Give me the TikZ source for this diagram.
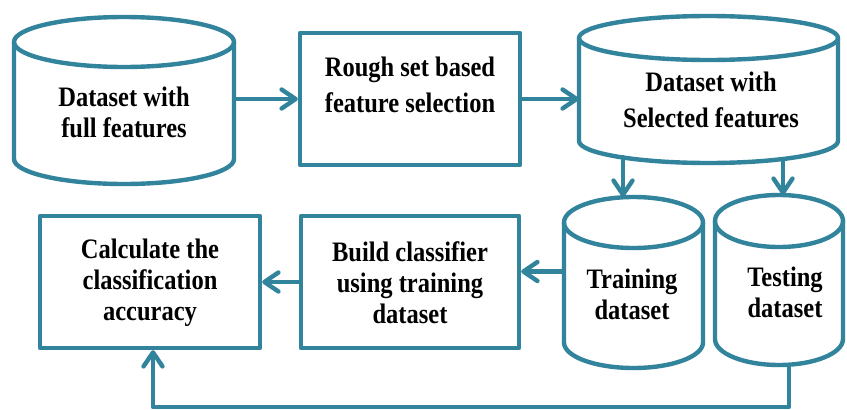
\documentclass[tikz,border=0pt]{standalone}
\usepackage{fontspec}
\usepackage{graphicx}
\setmainfont{Liberation Serif}
\usetikzlibrary{arrows.meta,calc}
\definecolor{tealfive}{RGB}{49,132,155}
\newcommand\tallt[1]{\scalebox{1}[1.15]{#1}}
\tikzset{
  x=1pt, y=-1pt,
  outline/.style={draw=tealfive, line width=4.4pt, line join=round},
  boxnode/.style={outline, rectangle, inner sep=0pt, fill=white},
  area/.style={rectangle, inner sep=0pt, draw=none},
  lbl/.style={align=center, font=\bfseries\fontsize{24.5}{31}\selectfont, inner sep=0pt},
  lblwide/.style={align=center, font=\bfseries\fontsize{24.5}{36}\selectfont, inner sep=0pt},
  flow/.style={draw=tealfive, line width=4.4pt, line cap=round, line join=round,
    -{Straight Barb[length=14pt,width=19pt,line cap=round,line join=round]}},
}
\newcommand\dbcyl[6]{%
  \pgfmathsetmacro\rxx{(#3-#2)/2}%
  \pgfmathsetmacro\cxx{(#2+#3)/2}%
  \pgfmathsetmacro\cyy{(#4+#5)/2}%
  \pgfmathsetmacro\www{#3-#2}%
  \pgfmathsetmacro\hhh{#5-#4}%
  \node[area, minimum width=\www pt, minimum height=\hhh pt] (#1) at (\cxx,\cyy) {};
  \draw[outline] (#2,#4+#6) -- (#2,#5-#6) arc[start angle=180,end angle=360,x radius=\rxx pt,y radius=#6 pt] -- (#3,#4+#6);
  \draw[outline] (\cxx,#4+#6) ellipse[x radius=\rxx pt,y radius=#6 pt];
}
\begin{document}
\begin{tikzpicture}
\useasboundingbox[fill=white] (0,0) rectangle (847,410);
% cylinders
\dbcyl{cyl1}{14}{234}{17}{184}{25}
\dbcyl{cyl2}{579}{838}{16}{163}{22}
\dbcyl{train}{564}{703}{197}{368}{25.5}
\dbcyl{test}{715}{843}{195}{365}{26}
% boxes
\node[boxnode, minimum width=220pt, minimum height=132pt] (box1) at (410,99) {};
\node[boxnode, minimum width=218pt, minimum height=132pt] (build) at (410,282) {};
\node[boxnode, minimum width=220pt, minimum height=132pt] (calc) at (150,282) {};
% labels
\node[lbl] (l1) at (124,112) {\tallt{Dataset with}\\\tallt{full features}};
\node[lblwide] (l2) at (410,85) {\tallt{Rough set based}\\\tallt{feature selection}};
\node[lblwide] (l3) at (711,100) {\tallt{Dataset with}\\\tallt{Selected features}};
\node[lbl] (l4) at (632,294) {\tallt{Training}\\\tallt{dataset}};
\node[lbl] (l5) at (785,292.5) {\tallt{Testing}\\\tallt{dataset}};
\node[lbl] (l6) at (410,282.5) {\tallt{Build classifier}\\\tallt{using training}\\\tallt{dataset}};
\node[lbl] (l7) at (150,282.5) {\tallt{Calculate the}\\\tallt{classification}\\\tallt{accuracy}};
% helper coordinates
\coordinate (ta) at ([xshift=-10.5pt]train.north);
\coordinate (tsa) at ([xshift=4pt]test.north);
\coordinate (c2a) at ([yshift=6pt]cyl2.south);
\coordinate (c2b) at ([yshift=4pt]cyl2.south);
\coordinate (tw) at ([yshift=11pt]train.west);
\coordinate (tb) at ([xshift=10pt]test.south);
\coordinate (fb) at (0,407);
\coordinate (cb) at ([xshift=3pt]calc.south);
% connectors
\draw[flow] (cyl1.east |- box1.west) -- (box1.west);
\draw[flow] (box1.east) -- (box1.east -| cyl2.west);
\draw[flow] (ta |- c2a) -- (ta);
\draw[flow] (tsa |- c2b) -- (tsa);
\draw[flow] (tw) -- (tw -| build.east);
\draw[flow] (build.west) -- (calc.east);
\draw[flow] (tb) -- (tb |- fb) -| (cb);
\end{tikzpicture}
\end{document}
